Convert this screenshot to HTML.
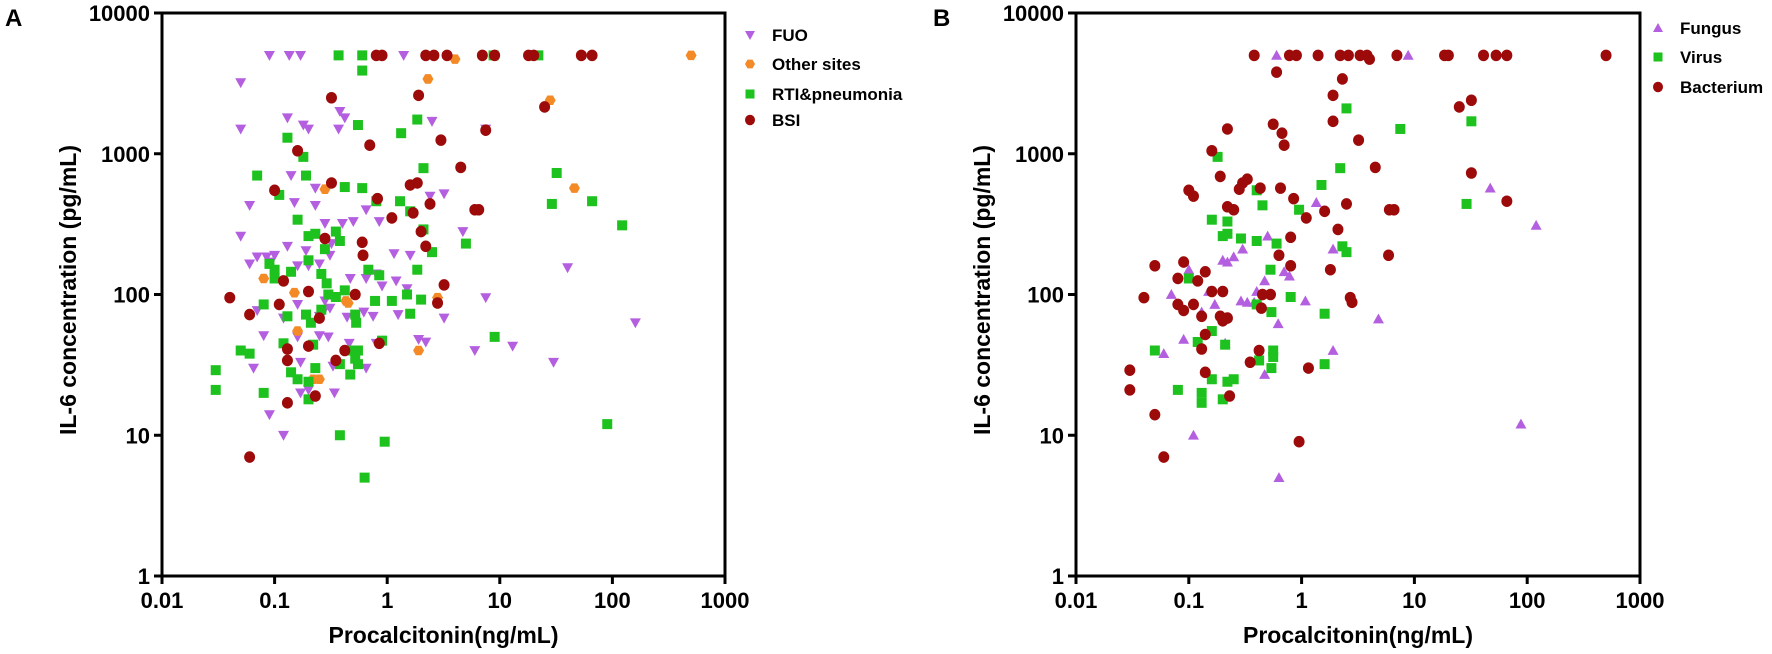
<!DOCTYPE html>
<html><head><meta charset="utf-8"><style>
html,body{margin:0;padding:0;background:#fff;}
svg{display:block;font-family:"Liberation Sans",Arial,sans-serif;font-weight:bold;}
</style></head><body>
<svg id="chart" width="1772" height="654" viewBox="0 0 1772 654" xmlns="http://www.w3.org/2000/svg">
<g id="root"></g>
</svg>
<script>
// ---- data panel A ----
const fuoX=[0.09,0.135,0.17,1.4,0.05,0.05,0.13,0.18,0.2,0.38,0.42,0.37,2.5,7.5,0.14,0.06,0.15,0.23,0.23,0.65,0.05,0.13,0.28,0.4,0.5,0.85,2.4,3.2,4.7,0.07,0.085,0.1,0.06,0.09,0.19,0.16,0.2,0.25,0.31,0.32,1.15,1.6,0.47,0.65,0.8,1.2,0.9,1.5,40,0.07,0.12,0.16,0.25,0.27,0.31,0.28,0.44,0.62,0.75,1.25,3.2,7.5,160,0.08,0.16,0.25,0.3,0.46,0.8,1.9,2.2,6,13,30,0.065,0.17,0.33,0.65,0.09,0.17,0.2,0.34,0.12];
const fuoY=[5000,5000,5000,5000,3200,1500,1800,1600,1500,2000,1800,1500,1700,1500,700,430,450,570,430,400,260,220,320,320,330,330,500,520,280,185,185,190,165,170,205,160,160,165,190,230,195,190,130,130,140,125,115,110,155,77,68,85,70,75,80,90,69,75,70,72,68,95,63,51,50,51,50,45,45,48,46,40,43,33,30,33,31,30,14,20,21,20,10];
const othX=[4,2.3,28,500,0.28,46,0.08,0.15,0.43,0.45,2.8,0.16,1.9,0.22,0.25];
const othY=[4700,3400,2400,5000,560,570,130,103,90,87,95,55,40,25,25];
const rtiX=[0.37,0.6,8.8,22,0.6,0.55,0.13,1.33,1.85,0.18,0.07,0.19,0.42,0.6,0.11,0.8,1.3,2.1,32,29,66,1.6,0.16,2.1,5,122,0.2,0.23,0.35,0.38,0.28,2.5,0.09,0.1,0.1,0.14,0.2,0.26,0.68,0.85,1.85,0.29,0.3,0.35,0.42,1.5,0.78,1.1,2,0.08,0.13,0.19,0.26,0.52,1.6,0.53,0.21,0.05,0.06,0.03,0.03,0.08,0.12,0.22,0.9,9,0.14,0.16,0.2,0.23,0.2,0.38,0.47,0.47,0.55,0.52,0.55,0.38,0.95,0.63,90];
const rtiY=[5000,5000,5000,5000,3900,1600,1300,1400,1750,950,700,700,580,570,510,460,460,790,730,440,460,390,340,290,230,310,260,270,280,240,210,200,165,150,130,145,175,140,150,137,150,120,100,96,107,100,90,90,92,85,70,72,78,72,73,63,63,40,38,29,21,20,45,44,47,50,28,25,24,30,18,32,27,40,40,35,32,10,9,5,12];
const bsiX=[0.8,0.9,2.2,2.6,3.4,7,9,18,20,53,66,0.32,1.9,25,7.5,3,0.7,0.16,4.5,0.32,0.1,1.6,1.85,0.82,2.4,1.1,1.7,6,6.5,0.28,0.6,0.61,2.2,2,0.04,0.06,0.11,0.12,0.2,0.52,3.2,2.8,0.13,0.2,0.13,0.35,0.42,0.25,0.13,0.23,0.06,0.85];
const bsiY=[5000,5000,5000,5000,5000,5000,5000,5000,5000,5000,5000,2500,2600,2150,1470,1250,1150,1050,800,620,550,600,620,480,440,350,380,400,400,250,235,190,220,280,95,72,85,125,105,100,117,87,41,43,34,34,40,68,17,19,7,45];
// ---- data panel B ----
const funX=[0.6,8.8,1.35,47,120,0.1,0.15,0.2,0.22,0.25,0.3,0.5,1.9,0.7,0.78,0.47,0.17,0.13,0.07,0.29,0.33,0.4,0.38,1.08,4.8,0.62,0.09,0.21,0.06,1.9,0.47,0.11,0.63,88];
const funY=[5000,5000,450,570,310,150,105,175,170,185,210,260,210,145,135,125,85,75,100,90,88,105,88,90,67,62,48,45,38,40,27,10,5,12];
const virX=[2.5,7.5,32,0.18,2.2,1.5,0.4,0.45,0.95,29,0.16,0.22,0.29,0.2,0.4,0.6,0.22,2.3,2.5,0.53,0.1,0.8,0.4,0.54,1.6,0.05,0.12,0.16,0.21,0.56,0.56,0.42,0.54,1.6,0.16,0.25,0.22,0.08,0.13,0.13,0.2];
const virY=[2100,1500,1700,950,790,600,550,430,400,440,340,330,250,260,240,230,270,220,200,150,130,96,85,75,73,40,46,55,44,40,36,34,30,32,25,25,24,21,20,17,18];
const bacX=[0.38,0.78,0.9,1.4,2.2,2.6,3.3,3.8,7,18.5,20,41,53,66,500,4,0.6,2.3,32,25,1.9,0.56,0.22,0.67,0.7,3.2,0.16,1.9,4.5,32,0.19,0.33,0.3,0.28,0.43,0.65,0.1,0.11,0.85,0.22,0.25,2.5,1.6,6,6.6,1.1,66,2.1,0.8,0.63,5.9,1.8,0.8,0.05,0.09,0.14,0.08,0.12,0.04,0.08,0.09,0.11,0.16,0.2,0.53,0.45,0.13,0.19,0.22,0.2,0.44,2.7,2.8,0.14,0.13,0.42,0.35,0.14,1.15,0.03,0.03,0.05,0.23,0.06,0.95];
const bacY=[5000,5000,5000,5000,5000,5000,5000,5000,5000,5000,5000,5000,5000,5000,5000,4700,3800,3400,2400,2150,2600,1620,1500,1400,1150,1250,1050,1700,800,730,690,660,620,560,570,570,550,500,480,420,400,440,390,400,400,350,460,290,255,190,190,150,160,160,170,145,130,125,95,85,77,85,105,105,100,100,70,70,68,65,80,95,88,52,41,40,33,28,30,29,21,14,19,7,9];
const xTicks=[0.01,0.1,1,10,100,1000];
const xTickLabels=["0.01","0.1","1","10","100","1000"];
const yTicks=[1,10,100,1000,10000];
const yTickLabels=["1","10","100","1000","10000"];

const NS="http://www.w3.org/2000/svg";
const root=document.getElementById('root');
function mk(tag,attrs,parent,text){const e=document.createElementNS(NS,tag);for(const k in attrs)e.setAttribute(k,attrs[k]);if(text!==undefined)e.textContent=text;(parent||root).appendChild(e);return e;}
const PURPLE="#b45fe0",ORANGE="#f48a26",GREEN="#1ec21e",RED="#9c0a0a";

function panel(p){
  const g=mk('g',{});
  
  
  const X=v=>p.x0+(Math.log10(v)+2)*(p.x1-p.x0)/5;
  const Y=v=>576-Math.log10(v)*(576-13)/4;
  p.series.forEach(s=>{
    const sg=mk('g',{},g);
    
    
    s.xs.forEach((xv,i)=>{
      const e=marker(s.shape,X(xv),Y(s.ys[i]),s.color,sg,5.5);
      
      
    });
  });
  const fr=mk('rect',{x:p.x0,y:13,width:p.x1-p.x0,height:563,fill:'none',stroke:'#000','stroke-width':3},g);
  
  
  xTicks.forEach((t,i)=>{
    mk('line',{x1:X(t),x2:X(t),y1:576,y2:584,stroke:'#000','stroke-width':3},g);
    const l=mk('text',{x:X(t),y:608,'text-anchor':'middle','font-size':22},g,xTickLabels[i]);
    
    
  });
  yTicks.forEach((t,i)=>{
    mk('line',{x1:p.x0-8,x2:p.x0,y1:Y(t),y2:Y(t),stroke:'#000','stroke-width':3},g);
    const l=mk('text',{x:p.x0-12,y:Y(t)+8,'text-anchor':'end','font-size':22},g,yTickLabels[i]);
    
    
  });
  const xt=mk('text',{x:(p.x0+p.x1)/2,y:643,'text-anchor':'middle','font-size':23},g,'Procalcitonin(ng/mL)');
  
  
  const yt=mk('text',{x:0,y:0,'text-anchor':'middle','font-size':23,transform:`translate(${p.ytx},290) rotate(-90)`},g,'IL-6 concentration (pg/mL)');
  
  
  const pl=mk('text',{x:p.lx,y:26,'font-size':24},g,p.letter);
  
  
  const lg=mk('g',{},g);
  
  
  p.series.forEach((s,i)=>{
    const ly=p.legY[i];
    const le=mk('g',{},lg);
    
    
    marker(s.shape,p.legMx,ly,s.color,le,5);
    mk('text',{x:p.legTx,y:ly+6,'font-size':17},le,s.label);
  });
}
function marker(shape,x,y,c,parent,r){
  if(shape==='down')return mk('path',{d:`M${x-r},${y-r*0.8}L${x+r},${y-r*0.8}L${x},${y+r}Z`,fill:c},parent);
  if(shape==='up')return mk('path',{d:`M${x-r},${y+r*0.8}L${x+r},${y+r*0.8}L${x},${y-r}Z`,fill:c},parent);
  if(shape==='sq')return mk('rect',{x:x-r+0.5,y:y-r+0.5,width:2*r-1,height:2*r-1,fill:c},parent);
  if(shape==='hex'){let d='';for(let k=0;k<6;k++){const a=Math.PI/3*k;d+=(k?'L':'M')+(x+r*Math.cos(a))+','+(y+r*Math.sin(a));}return mk('path',{d:d+'Z',fill:c},parent);}
  return mk('ellipse',{cx:x,cy:y,rx:r,ry:r*1.05,fill:c},parent);
}
panel({name:'panel-a',x0:162,x1:725,ytx:76,lx:5,letter:'A',legMx:750,legTx:772,legY:[35,64,94,120],
  series:[{key:'fuo',label:'FUO',shape:'down',color:PURPLE,xs:fuoX,ys:fuoY},
          {key:'other-sites',label:'Other sites',shape:'hex',color:ORANGE,xs:othX,ys:othY},
          {key:'rti-pneumonia',label:'RTI&pneumonia',shape:'sq',color:GREEN,xs:rtiX,ys:rtiY},
          {key:'bsi',label:'BSI',shape:'circ',color:RED,xs:bsiX,ys:bsiY}]});
panel({name:'panel-b',x0:1076,x1:1640,ytx:990,lx:933,letter:'B',legMx:1658,legTx:1680,legY:[28,57,87],
  series:[{key:'fungus',label:'Fungus',shape:'up',color:PURPLE,xs:funX,ys:funY},
          {key:'virus',label:'Virus',shape:'sq',color:GREEN,xs:virX,ys:virY},
          {key:'bacterium',label:'Bacterium',shape:'circ',color:RED,xs:bacX,ys:bacY}]});
</script>
</body></html>
